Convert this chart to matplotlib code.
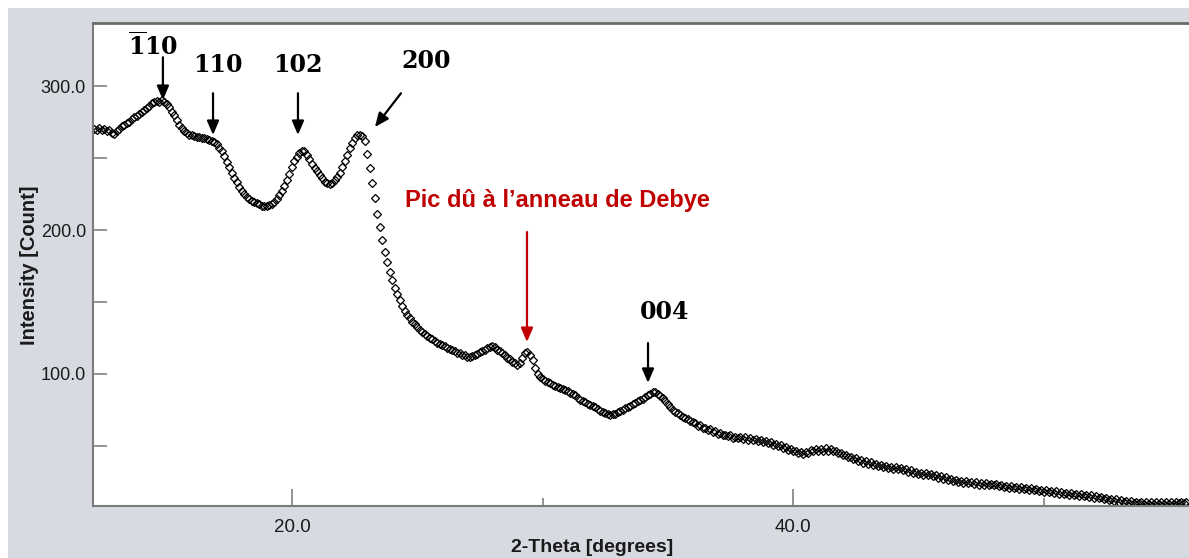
import numpy as np
import matplotlib
matplotlib.use("Agg")
import matplotlib.pyplot as plt
from matplotlib.patches import Rectangle

# XRD scan: 2-theta from 12.1 deg in 0.1 deg steps
start_angle = 12.1
step = 0.1
counts = [
    270.5, 269.8, 270.6, 269.5, 270.1, 268.9, 269.4, 267.6, 266.8, 268.7,
    270.4, 272.1, 273.0, 274.6, 275.3, 277.2, 278.4, 279.1, 280.8, 282.3,
    283.6, 285.0, 286.4, 287.9, 288.6, 289.8, 289.2, 290.1, 288.9, 287.6,
    285.4, 282.1, 279.6, 276.3, 273.2, 270.8, 268.9, 267.5, 266.1, 265.8,
    265.2, 264.6, 264.9, 263.8, 264.1, 263.2, 262.5, 261.6, 260.8, 259.5,
    257.3, 254.6, 251.2, 247.5, 243.8, 239.6, 236.2, 233.1, 230.0, 227.4,
    225.0, 223.1, 221.6, 220.4, 219.3, 218.5, 217.8, 217.0, 216.4, 216.6,
    217.2, 218.3, 219.8, 221.5, 224.0, 227.2, 230.8, 234.6, 238.9, 243.6,
    247.8, 251.0, 253.6, 255.1, 254.6, 252.3, 249.1, 246.0, 243.3, 241.0,
    238.2, 235.9, 233.6, 232.4, 232.1, 233.0, 234.6, 236.8, 239.9, 243.5,
    247.6, 252.3, 256.8, 260.7, 264.0, 265.9, 266.3, 265.0, 261.8, 253.0,
    243.0, 233.0, 222.0, 211.0, 202.0, 193.0, 185.0, 178.0, 171.0, 165.0,
    160.0, 155.6, 151.2, 147.4, 144.0, 141.3, 138.6, 136.3, 134.5, 132.6,
    130.8, 129.0, 127.6, 126.3, 124.9, 124.0, 122.6, 121.8, 120.5, 119.9,
    119.2, 118.1, 117.6, 116.4, 116.0, 114.8, 114.5, 113.2, 113.0, 112.1,
    111.6, 112.4, 112.9, 114.1, 115.0, 116.2, 117.0, 118.3, 118.8, 119.2,
    118.5, 117.0, 115.8, 114.3, 113.0, 111.4, 110.2, 108.5, 107.3, 106.0,
    107.5, 111.0, 114.5, 115.4, 113.0, 109.5, 104.0, 100.0, 97.8, 96.5,
    95.4, 94.6, 93.8, 92.5, 92.0, 91.1, 90.2, 89.6, 88.8, 88.1,
    87.0, 85.9, 85.1, 83.6, 82.2, 81.5, 80.3, 79.4, 78.5, 77.6,
    76.9, 75.8, 74.5, 73.6, 72.8, 72.0, 71.6, 71.9, 72.5, 73.4,
    74.3, 75.2, 76.5, 77.1, 78.0, 79.2, 79.8, 80.9, 81.7, 82.6,
    83.8, 85.1, 86.3, 87.6, 87.2, 86.0, 84.9, 83.2, 81.3, 79.4,
    77.2, 75.3, 73.9, 72.6, 71.5, 70.2, 69.4, 68.5, 67.3, 66.6,
    65.8, 64.2, 64.6, 62.7, 62.8, 60.9, 61.5, 59.6, 60.2, 58.4,
    58.9, 57.3, 57.8, 56.7, 57.3, 55.6, 56.5, 55.4, 56.0, 54.8,
    56.1, 54.3, 55.6, 53.8, 55.1, 53.2, 54.0, 52.9, 53.4, 51.9,
    52.8, 51.0, 51.6, 49.8, 50.5, 48.6, 49.2, 47.4, 48.1, 46.2,
    46.8, 45.2, 45.9, 44.4, 46.0, 45.3, 46.9, 46.2, 47.8, 46.4,
    48.1, 46.7, 48.4, 46.5, 48.0, 46.3, 46.8, 45.0, 45.4, 43.4,
    43.9, 42.0, 42.5, 40.9, 41.3, 39.7, 40.2, 38.5, 39.3, 37.6,
    38.6, 36.8, 37.7, 36.2, 36.8, 35.4, 36.2, 34.9, 35.7, 34.2,
    35.2, 33.7, 34.6, 33.0, 33.7, 32.2, 33.0, 31.4, 32.1, 30.6,
    31.5, 30.0, 31.0, 29.6, 30.5, 28.9, 29.7, 28.0, 28.9, 27.2,
    28.1, 26.4, 27.2, 25.6, 26.5, 24.9, 25.8, 24.4, 25.4, 24.0,
    25.0, 23.5, 24.8, 23.2, 24.2, 23.1, 24.0, 22.7, 23.6, 22.6,
    23.5, 22.0, 23.0, 21.5, 22.4, 21.1, 22.0, 20.5, 21.5, 20.1,
    21.2, 19.8, 20.9, 19.5, 20.6, 19.1, 20.1, 18.7, 19.6, 18.2,
    19.2, 17.8, 18.7, 17.3, 18.4, 16.9, 18.0, 16.6, 17.6, 16.2,
    17.2, 15.8, 16.8, 15.4, 16.4, 15.0, 16.0, 14.6, 15.6, 14.2,
    15.2, 13.7, 14.6, 13.1, 14.0, 12.5, 13.4, 12.0, 12.9, 11.4,
    12.4, 11.0, 12.0, 10.6, 11.7, 10.3, 11.4, 10.1, 11.2, 9.9,
    11.1, 9.8, 11.0, 9.9, 10.9, 9.8, 11.0, 9.7, 11.1, 9.8,
    11.2, 9.9, 11.1, 10.1, 11.2, 10.2, 11.4,
]
two_theta = np.round(start_angle + step * np.arange(len(counts)), 2)

# peak labels: (text, label x, label y, arrow tail (x, y), arrow tip (x, y))
peak_labels = [r"$\mathbf{\overline{1}10}$", "110", "102", "200", "004"]
label_pos = [(14.45, 328), (17.05, 314.6), (20.24, 314.6), (25.35, 317.4), (34.89, 143)]
arrow_tail = [(14.85, 320), (16.85, 295), (20.24, 295), (24.35, 295), (34.21, 121.5)]
arrow_tip = [(14.85, 290.3), (16.85, 266), (20.24, 266), (23.31, 271.5), (34.21, 93.8)]

debye_text = "Pic dû à l’anneau de Debye"
debye_pos = (30.58, 220.8)
debye_tail = (29.38, 198.6)
debye_tip = (29.38, 122.2)

plt.rcParams["mathtext.fontset"] = "dejavuserif"
sans = ["Liberation Sans", "DejaVu Sans"]
narrow = ["Liberation Sans Narrow", "Liberation Sans", "DejaVu Sans"]

W, H = 1189, 558
fig = plt.figure(figsize=(W / 100, H / 100), dpi=100, facecolor="white")
fig.patches.append(Rectangle((8 / W, 0), 1, (H - 8) / H, transform=fig.transFigure,
                             facecolor="#d7dae1", edgecolor="none", zorder=-10))

ax = fig.add_axes([93 / W, 52 / H, (W - 93) / W, (506 - 23) / H])
ax.set_facecolor("white")

ax.plot(two_theta, counts, linestyle="none", marker="D", markersize=3.8,
        markerfacecolor="none", markeredgecolor="black", markeredgewidth=0.9)

ax.set_xlim(12.06, 55.8)
ax.set_ylim(8.3, 343.8)

ax.set_xticks([20, 40])
ax.set_xticks([30, 50], minor=True)
ax.set_yticks([100, 200, 300])
ax.set_yticks([50, 150, 250], minor=True)
ax.set_xticklabels(["20.0", "40.0"], family=narrow, fontsize=13.5, color="#1a1a1a")
ax.set_yticklabels(["100.0", "200.0", "300.0"], family=sans, fontsize=13, color="#1a1a1a")
ax.tick_params(axis="x", which="major", direction="in", length=12, width=1.2, color="#808080", pad=9)
ax.tick_params(axis="x", which="minor", direction="in", length=6, width=1.2, color="#808080")
ax.tick_params(axis="y", which="both", direction="in", length=10, width=1.2, color="#808080", pad=5)

for side in ("left", "bottom"):
    ax.spines[side].set_color("#7a7a7a")
    ax.spines[side].set_linewidth(1.5)
ax.spines["top"].set_color("#6a6a6a")
ax.spines["top"].set_linewidth(2)
ax.spines["right"].set_visible(False)

fig.text(592 / W, 1 - 547 / H, "2-Theta [degrees]", family=narrow, fontweight="bold",
         fontsize=14, ha="center", va="center", color="#1a1a1a")
fig.text(30 / W, 1 - 265 / H, "Intensity [Count]", family=sans, fontweight="bold",
         fontsize=14.5, rotation=90, ha="center", va="center", color="#1a1a1a")

arrow_kw = dict(arrowstyle="-|>,head_length=0.7,head_width=0.3", lw=1.6,
                color="black", shrinkA=0, shrinkB=0, mutation_scale=12)
for text, pos, tail, tip in zip(peak_labels, label_pos, arrow_tail, arrow_tip):
    ax.text(pos[0], pos[1], text, family="DejaVu Serif", fontweight="bold",
            fontsize=17, ha="center", va="center")
    ax.annotate("", xy=tip, xytext=tail, arrowprops=arrow_kw)

ax.text(debye_pos[0], debye_pos[1], debye_text, family=sans, fontweight="bold",
        fontsize=17, color="#c00000", ha="center", va="center")
ax.annotate("", xy=debye_tip, xytext=debye_tail,
            arrowprops=dict(arrow_kw, color="#c00000"))

fig.savefig("out.png", dpi=100)
